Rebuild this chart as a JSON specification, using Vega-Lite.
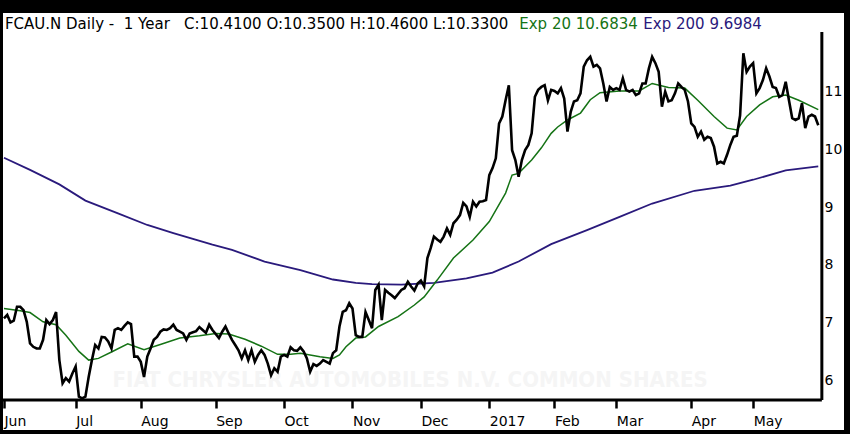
{
  "$schema": "https://vega.github.io/schema/vega-lite/v6.json",
  "width": 841,
  "height": 417,
  "autosize": "none",
  "padding": {"left": 3, "top": 13, "right": 6, "bottom": 4},
  "background": "black",
  "datasets": {
    "price": [
      {"day":0,"close":7.08},{"day":1,"close":7.14},{"day":2,"close":7.01},{"day":3,"close":7.04},{"day":4,"close":7.28},
      {"day":5,"close":7.28},{"day":6,"close":7.22},{"day":7,"close":7.02},{"day":8,"close":6.65},{"day":9,"close":6.59},
      {"day":10,"close":6.56},{"day":11,"close":6.56},{"day":12,"close":6.71},{"day":13,"close":7.05},{"day":14,"close":6.98},
      {"day":15,"close":7.05},{"day":16,"close":7.19},{"day":17,"close":6.36},{"day":18,"close":5.96},{"day":19,"close":6.05},
      {"day":20,"close":5.99},{"day":21,"close":6.13},{"day":22,"close":6.25},{"day":23,"close":5.73},{"day":24,"close":5.70},
      {"day":25,"close":5.73},{"day":26,"close":6.07},{"day":27,"close":6.36},{"day":28,"close":6.62},{"day":29,"close":6.56},
      {"day":30,"close":6.76},{"day":31,"close":6.75},{"day":32,"close":6.68},{"day":33,"close":6.56},{"day":34,"close":6.88},
      {"day":35,"close":6.91},{"day":36,"close":6.88},{"day":37,"close":6.95},{"day":38,"close":7.01},{"day":39,"close":6.98},
      {"day":40,"close":6.42},{"day":41,"close":6.42},{"day":42,"close":6.33},{"day":43,"close":6.07},{"day":44,"close":6.42},
      {"day":45,"close":6.56},{"day":46,"close":6.71},{"day":47,"close":6.76},{"day":48,"close":6.85},{"day":49,"close":6.89},
      {"day":50,"close":6.88},{"day":51,"close":6.91},{"day":52,"close":6.97},{"day":53,"close":6.88},{"day":54,"close":6.85},
      {"day":55,"close":6.82},{"day":56,"close":6.71},{"day":57,"close":6.82},{"day":58,"close":6.84},{"day":59,"close":6.86},
      {"day":60,"close":6.93},{"day":61,"close":6.88},{"day":62,"close":6.83},{"day":63,"close":6.97},{"day":64,"close":6.88},
      {"day":65,"close":6.81},{"day":66,"close":6.74},{"day":67,"close":6.85},{"day":68,"close":6.94},{"day":69,"close":6.82},
      {"day":70,"close":6.71},{"day":71,"close":6.62},{"day":72,"close":6.53},{"day":73,"close":6.39},{"day":74,"close":6.53},
      {"day":75,"close":6.36},{"day":76,"close":6.53},{"day":77,"close":6.33},{"day":78,"close":6.45},{"day":79,"close":6.53},
      {"day":80,"close":6.45},{"day":81,"close":6.30},{"day":82,"close":6.10},{"day":83,"close":6.22},{"day":84,"close":6.16},
      {"day":85,"close":6.42},{"day":86,"close":6.45},{"day":87,"close":6.42},{"day":88,"close":6.58},{"day":89,"close":6.53},
      {"day":90,"close":6.52},{"day":91,"close":6.58},{"day":92,"close":6.51},{"day":93,"close":6.39},{"day":94,"close":6.16},
      {"day":95,"close":6.29},{"day":96,"close":6.26},{"day":97,"close":6.30},{"day":98,"close":6.36},{"day":99,"close":6.33},
      {"day":100,"close":6.30},{"day":101,"close":6.48},{"day":102,"close":6.53},{"day":103,"close":6.94},{"day":104,"close":7.19},
      {"day":105,"close":7.22},{"day":106,"close":7.34},{"day":107,"close":7.25},{"day":108,"close":6.79},{"day":109,"close":6.76},
      {"day":110,"close":6.76},{"day":111,"close":7.19},{"day":112,"close":7.05},{"day":113,"close":6.91},{"day":114,"close":7.57},
      {"day":115,"close":7.66},{"day":116,"close":7.05},{"day":117,"close":7.57},{"day":118,"close":7.52},{"day":119,"close":7.48},
      {"day":120,"close":7.43},{"day":121,"close":7.50},{"day":122,"close":7.57},{"day":123,"close":7.60},{"day":124,"close":7.71},
      {"day":125,"close":7.63},{"day":126,"close":7.56},{"day":127,"close":7.68},{"day":128,"close":7.73},{"day":129,"close":7.63},
      {"day":130,"close":8.12},{"day":131,"close":8.29},{"day":132,"close":8.49},{"day":133,"close":8.44},{"day":134,"close":8.40},
      {"day":135,"close":8.49},{"day":136,"close":8.63},{"day":137,"close":8.52},{"day":138,"close":8.72},{"day":139,"close":8.78},
      {"day":140,"close":8.86},{"day":141,"close":9.07},{"day":142,"close":9.01},{"day":143,"close":8.83},{"day":144,"close":9.09},
      {"day":145,"close":9.01},{"day":146,"close":9.09},{"day":147,"close":9.10},{"day":148,"close":9.12},{"day":149,"close":9.55},
      {"day":150,"close":9.67},{"day":151,"close":9.84},{"day":152,"close":10.44},{"day":153,"close":10.56},{"day":154,"close":10.84},
      {"day":155,"close":11.10},{"day":156,"close":9.98},{"day":157,"close":9.81},{"day":158,"close":9.52},{"day":159,"close":9.81},
      {"day":160,"close":9.98},{"day":161,"close":10.07},{"day":162,"close":10.27},{"day":163,"close":10.90},{"day":164,"close":11.02},
      {"day":165,"close":11.07},{"day":166,"close":11.10},{"day":167,"close":10.84},{"day":168,"close":11.02},{"day":169,"close":11.00},
      {"day":170,"close":10.96},{"day":171,"close":11.05},{"day":172,"close":10.87},{"day":173,"close":10.30},{"day":174,"close":10.64},
      {"day":175,"close":10.82},{"day":176,"close":10.84},{"day":177,"close":10.96},{"day":178,"close":11.42},{"day":179,"close":11.53},
      {"day":180,"close":11.59},{"day":181,"close":11.42},{"day":182,"close":11.45},{"day":183,"close":11.39},{"day":184,"close":11.13},
      {"day":185,"close":10.82},{"day":186,"close":11.07},{"day":187,"close":11.02},{"day":188,"close":11.05},{"day":189,"close":11.02},
      {"day":190,"close":11.22},{"day":191,"close":11.02},{"day":192,"close":10.99},{"day":193,"close":11.02},{"day":194,"close":10.93},
      {"day":195,"close":10.96},{"day":196,"close":11.13},{"day":197,"close":11.13},{"day":198,"close":11.39},{"day":199,"close":11.59},
      {"day":200,"close":11.48},{"day":201,"close":11.33},{"day":202,"close":10.73},{"day":203,"close":10.99},{"day":204,"close":10.82},
      {"day":205,"close":10.84},{"day":206,"close":10.96},{"day":207,"close":11.13},{"day":208,"close":11.07},{"day":209,"close":11.02},
      {"day":210,"close":10.82},{"day":211,"close":10.44},{"day":212,"close":10.38},{"day":213,"close":10.21},{"day":214,"close":10.30},
      {"day":215,"close":10.16},{"day":216,"close":10.21},{"day":217,"close":10.19},{"day":218,"close":10.04},{"day":219,"close":9.75},
      {"day":220,"close":9.78},{"day":221,"close":9.75},{"day":222,"close":9.90},{"day":223,"close":10.07},{"day":224,"close":10.21},
      {"day":225,"close":10.23},{"day":226,"close":10.58},{"day":227,"close":11.65},{"day":228,"close":11.33},{"day":229,"close":11.42},
      {"day":230,"close":11.48},{"day":231,"close":10.96},{"day":232,"close":11.05},{"day":233,"close":11.19},{"day":234,"close":11.39},
      {"day":235,"close":11.25},{"day":236,"close":11.07},{"day":237,"close":11.05},{"day":238,"close":10.90},{"day":239,"close":10.93},
      {"day":240,"close":11.16},{"day":241,"close":10.84},{"day":242,"close":10.53},{"day":243,"close":10.50},{"day":244,"close":10.53},
      {"day":245,"close":10.79},{"day":246,"close":10.36},{"day":247,"close":10.56},{"day":248,"close":10.59},{"day":249,"close":10.56},
      {"day":250,"close":10.41}
    ],
    "exp20": [
      {"day":0,"close":7.25},{"day":5,"close":7.21},{"day":8,"close":7.18},{"day":12,"close":7.02},{"day":16,"close":6.97},
      {"day":19,"close":6.79},{"day":23,"close":6.51},{"day":26,"close":6.36},{"day":29,"close":6.39},{"day":33,"close":6.50},
      {"day":38,"close":6.64},{"day":43,"close":6.54},{"day":48,"close":6.63},{"day":54,"close":6.74},{"day":60,"close":6.78},
      {"day":65,"close":6.82},{"day":69,"close":6.81},{"day":74,"close":6.72},{"day":79,"close":6.60},{"day":84,"close":6.46},
      {"day":88,"close":6.46},{"day":91,"close":6.48},{"day":97,"close":6.42},{"day":101,"close":6.39},{"day":103,"close":6.45},
      {"day":105,"close":6.59},{"day":108,"close":6.74},{"day":111,"close":6.76},{"day":115,"close":6.94},{"day":121,"close":7.11},
      {"day":126,"close":7.31},{"day":129,"close":7.45},{"day":133,"close":7.74},{"day":138,"close":8.12},{"day":144,"close":8.43},
      {"day":149,"close":8.75},{"day":154,"close":9.24},{"day":156,"close":9.55},{"day":158,"close":9.58},{"day":162,"close":9.81},
      {"day":165,"close":10.02},{"day":168,"close":10.27},{"day":170,"close":10.38},{"day":173,"close":10.50},{"day":177,"close":10.62},
      {"day":180,"close":10.85},{"day":183,"close":10.97},{"day":189,"close":11.00},{"day":195,"close":11.00},{"day":199,"close":11.13},
      {"day":204,"close":11.06},{"day":209,"close":11.05},{"day":213,"close":10.84},{"day":218,"close":10.56},{"day":222,"close":10.36},
      {"day":225,"close":10.33},{"day":228,"close":10.56},{"day":232,"close":10.76},{"day":236,"close":10.90},{"day":240,"close":10.93},
      {"day":244,"close":10.84},{"day":250,"close":10.68}
    ],
    "exp200": [
      {"day":0,"close":9.85},{"day":8,"close":9.64},{"day":17,"close":9.39},{"day":25,"close":9.11},{"day":35,"close":8.89},
      {"day":44,"close":8.69},{"day":52,"close":8.55},{"day":58,"close":8.45},{"day":64,"close":8.35},{"day":70,"close":8.26},
      {"day":80,"close":8.06},{"day":91,"close":7.91},{"day":101,"close":7.75},{"day":108,"close":7.69},{"day":113,"close":7.67},
      {"day":122,"close":7.66},{"day":132,"close":7.69},{"day":142,"close":7.77},{"day":150,"close":7.87},{"day":158,"close":8.06},
      {"day":168,"close":8.36},{"day":179,"close":8.60},{"day":189,"close":8.83},{"day":199,"close":9.06},{"day":212,"close":9.28},
      {"day":223,"close":9.37},{"day":230,"close":9.47},{"day":240,"close":9.63},{"day":250,"close":9.70}
    ]
  },
  "config": {
    "view": {"fill": "white", "stroke": null},
    "font": "DejaVu Sans"
  },
  "layer": [
    {
      "data": {"values": [{"label": "FIAT CHRYSLER AUTOMOBILES N.V. COMMON SHARES"}]},
      "mark": {"type": "text", "align": "center", "baseline": "middle", "fontSize": 22, "fontWeight": "bold", "color": "#f5f5f5", "font": "DejaVu Sans Condensed, Liberation Sans Narrow, DejaVu Sans"},
      "encoding": {
        "x": {"datum": 124.7, "type": "quantitative", "title": null},
        "y": {"datum": 6.02, "type": "quantitative", "title": null},
        "text": {"field": "label"}
      }
    },
    {
      "data": {"name": "exp200"},
      "mark": {"type": "line", "color": "#2a1a7c", "strokeWidth": 1.8},
      "encoding": {
        "x": {"field": "day", "type": "quantitative", "title": null},
        "y": {"field": "close", "type": "quantitative", "title": null}
      }
    },
    {
      "data": {"name": "exp20"},
      "mark": {"type": "line", "color": "#157315", "strokeWidth": 1.5},
      "encoding": {
        "x": {"field": "day", "type": "quantitative", "title": null},
        "y": {"field": "close", "type": "quantitative", "title": null}
      }
    },
    {
      "data": {"name": "price"},
      "mark": {"type": "line", "color": "black", "strokeWidth": 2.6, "strokeJoin": "miter"},
      "encoding": {
        "x": {
          "field": "day", "type": "quantitative", "title": null,
          "scale": {"domain": [-0.3, 257.9], "nice": false, "zero": false},
          "axis": {
            "orient": "bottom", "offset": -30, "grid": false, "domain": false,
            "values": [0, 22, 42, 65, 86, 107, 128, 149, 169, 188, 211, 230],
            "labelExpr": "['Jun','Jul','Aug','Sep','Oct','Nov','Dec','2017','Feb','Mar','Apr','May'][indexof([0,22,42,65,86,107,128,149,169,188,211,230], datum.value)]",
            "ticks": true, "tickSize": 8, "tickWidth": 2.5, "tickColor": "black",
            "labelAlign": "left", "labelBaseline": "top", "labelPadding": 6,
            "labelFontSize": 14, "labelColor": "black", "labelFlush": false, "labelOverlap": false, "labelBound": false
          }
        },
        "y": {
          "field": "close", "type": "quantitative", "title": null,
          "scale": {"domain": [5.155, 12.345], "nice": false, "zero": false},
          "axis": {
            "orient": "right", "offset": -22, "grid": false, "domain": false, "ticks": false,
            "values": [6, 7, 8, 9, 10, 11], "format": "d",
            "labelAlign": "left", "labelBaseline": "middle", "labelPadding": 2,
            "labelFontSize": 14, "labelColor": "black", "labelFlush": false, "labelOverlap": false, "labelBound": false
          }
        }
      }
    },
    {
      "data": {"values": [{"edge": "bottom"}]},
      "mark": {"type": "rule", "stroke": "black", "strokeWidth": 3},
      "encoding": {
        "y": {"datum": 5.672, "type": "quantitative"},
        "x": {"datum": -0.3, "type": "quantitative"},
        "x2": {"datum": 251.1}
      }
    },
    {
      "data": {"values": [{"edge": "right"}]},
      "mark": {"type": "rule", "stroke": "black", "strokeWidth": 3},
      "encoding": {
        "x": {"datum": 251.1, "type": "quantitative"},
        "y": {"datum": 5.672, "type": "quantitative"},
        "y2": {"datum": 12.017}
      }
    },
    {
      "data": {"values": [{"label": "FCAU.N Daily -\u00a0\u00a01 Year\u00a0\u00a0\u00a0C:10.4100 O:10.3500 H:10.4600 L:10.3300"}]},
      "mark": {"type": "text", "align": "left", "baseline": "middle", "fontSize": 15, "color": "black"},
      "encoding": {
        "x": {"datum": 0.3, "type": "quantitative", "title": null},
        "y": {"datum": 12.155, "type": "quantitative", "title": null},
        "text": {"field": "label"}
      }
    },
    {
      "data": {"values": [{"label": "Exp 20 10.6834"}]},
      "mark": {"type": "text", "align": "left", "baseline": "middle", "fontSize": 15, "color": "#157315"},
      "encoding": {
        "x": {"datum": 158.2, "type": "quantitative", "title": null},
        "y": {"datum": 12.155, "type": "quantitative", "title": null},
        "text": {"field": "label"}
      }
    },
    {
      "data": {"values": [{"label": "Exp 200 9.6984"}]},
      "mark": {"type": "text", "align": "left", "baseline": "middle", "fontSize": 15, "color": "#2a1a7c"},
      "encoding": {
        "x": {"datum": 196.3, "type": "quantitative", "title": null},
        "y": {"datum": 12.155, "type": "quantitative", "title": null},
        "text": {"field": "label"}
      }
    }
  ]
}
